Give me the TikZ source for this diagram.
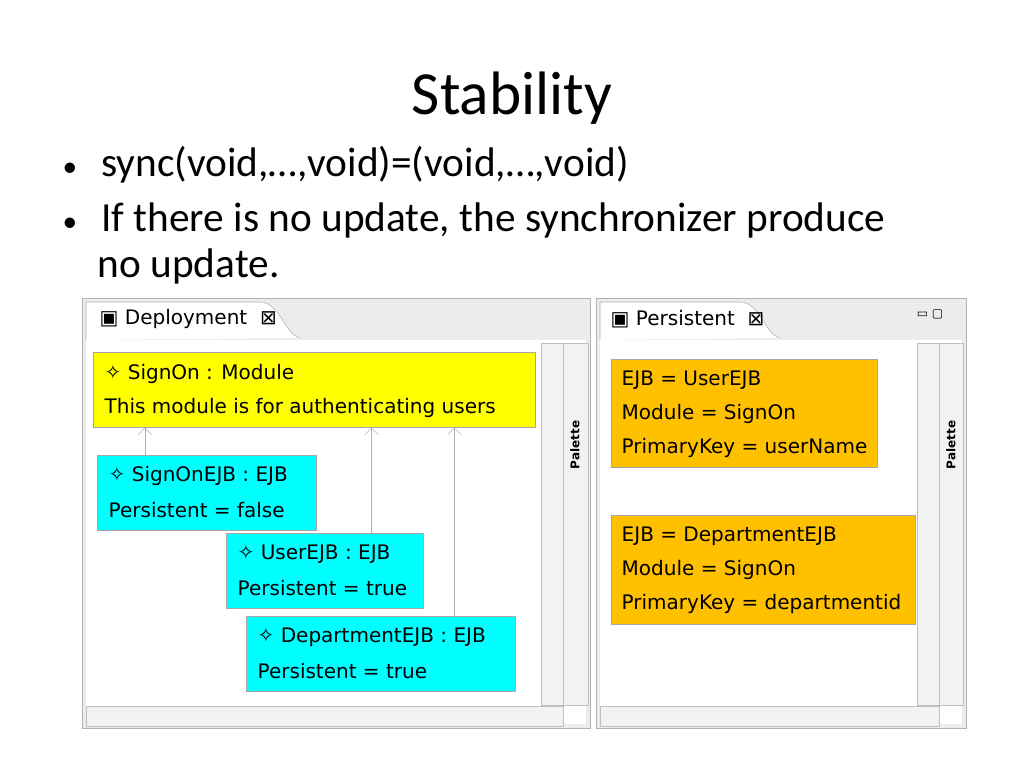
\documentclass[tikz,border=0pt]{standalone}
\usepackage{fontspec}
\setmainfont{Carlito}
\newfontfamily\uifont{DejaVu Sans}
\usetikzlibrary{arrows.meta}
\definecolor{modyellow}{RGB}{255,255,0}
\definecolor{ejbcyan}{RGB}{0,255,255}
\definecolor{perorange}{RGB}{255,192,0}
\newcommand{\smallbullet}{{\fontsize{22}{24}\selectfont •}}

\begin{document}
\begin{tikzpicture}[x=0.75pt,y=-0.75pt,
    box/.style={draw=gray!70, anchor=north west, inner sep=0pt},
    linetext/.style={anchor=west, font=\uifont\fontsize{15}{17}\selectfont},
    assoc/.style={draw=gray!60, -{Straight Barb[length=5pt]}},
    panel/.style={draw=gray!60, fill=gray!15},
    bar/.style={draw=gray!50, fill=gray!10}]

    % Page
    \useasboundingbox (0,0) rectangle (1024,768);

    % Title and bullets
    \node (title) at (512,98) {\fontsize{46}{52}\selectfont Stability};
    \node[anchor=west] (b1) at (58,165) {\fontsize{31}{36}\selectfont \smallbullet\hspace{18pt}sync(void,…,void)=(void,…,void)};
    \node[anchor=west] (b2) at (58,220) {\fontsize{31}{36}\selectfont \smallbullet\hspace{18pt}If there is no update, the synchronizer produce};
    \node[anchor=west] (b3) at (93,266) {\fontsize{31}{36}\selectfont no update.};

    % Panels
    \foreach \xa/\xb in {82/590, 596/966}
    {
        \draw[panel] (\xa,298) rectangle (\xb,728);
        \fill[white] (\xa+4,340) rectangle (\xb-4,724);
    }
    % Tabs
    \draw[draw=gray!60, fill=white] (86,340) -- (86,302) -- (260,302) .. controls (280,302) and (285,335) .. (300,338);
    \node[linetext] (tabl) at (95,319) {▣ Deployment \ ⊠};
    \draw[draw=gray!60, fill=white] (600,340) -- (600,302) -- (740,302) .. controls (760,302) and (765,335) .. (780,338);
    \node[linetext] (tabr) at (606,319) {▣ Persistent \ ⊠};
    \node[font=\uifont\small] (minmax) at (930,314) {▭ ▢};

    % Scrollbars and palettes
    \draw[bar] (541,343) rectangle (563,705);
    \draw[bar] (563,343) rectangle (588,705);
    \node[rotate=90, font=\uifont\bfseries\small] (pal1) at (575,445) {Palette};
    \draw[bar] (86,706) rectangle (563,726);
    \draw[bar] (917,343) rectangle (939,705);
    \draw[bar] (939,343) rectangle (963,705);
    \node[rotate=90, font=\uifont\bfseries\small] (pal2) at (951,445) {Palette};
    \draw[bar] (600,706) rectangle (939,726);

    % Left diagram
    \node[box, fill=modyellow, minimum width=442pt*0.75, minimum height=75pt*0.75] (mod) at (93,352) {};
    \node[linetext] at (100,374) {✧ SignOn : Module};
    \node[linetext] at (100,408) {This module is for authenticating users};

    \node[box, fill=ejbcyan, minimum width=219pt*0.75, minimum height=75pt*0.75] (ejb1) at (97,455) {};
    \node[linetext] at (104,476) {✧ SignOnEJB : EJB};
    \node[linetext] at (104,510) {Persistent = false};

    \node[box, fill=ejbcyan, minimum width=197pt*0.75, minimum height=75pt*0.75] (ejb2) at (226,533) {};
    \node[linetext] at (233,554) {✧ UserEJB : EJB};
    \node[linetext] at (233,588) {Persistent = true};

    \node[box, fill=ejbcyan, minimum width=269pt*0.75, minimum height=75pt*0.75] (ejb3) at (246,616) {};
    \node[linetext] at (253,637) {✧ DepartmentEJB : EJB};
    \node[linetext] at (253,671) {Persistent = true};

    \draw[assoc] (ejb1.north west) ++(48,0) coordinate (e1) -- (e1 |- mod.south);
    \draw[assoc] (ejb2.north east) ++(-52,0) coordinate (e2) -- (e2 |- mod.south);
    \draw[assoc] (ejb3.north east) ++(-61,0) coordinate (e3) -- (e3 |- mod.south);

    % Right diagram
    \node[box, fill=perorange, minimum width=266pt*0.75, minimum height=108pt*0.75] (per1) at (611,359) {};
    \node[linetext] at (617,380) {EJB = UserEJB};
    \node[linetext] at (617,414) {Module = SignOn};
    \node[linetext] at (617,448) {PrimaryKey = userName};

    \node[box, fill=perorange, minimum width=304pt*0.75, minimum height=109pt*0.75] (per2) at (611,515) {};
    \node[linetext] at (617,536) {EJB = DepartmentEJB};
    \node[linetext] at (617,570) {Module = SignOn};
    \node[linetext] at (617,604) {PrimaryKey = departmentid};

\end{tikzpicture}
\end{document}
